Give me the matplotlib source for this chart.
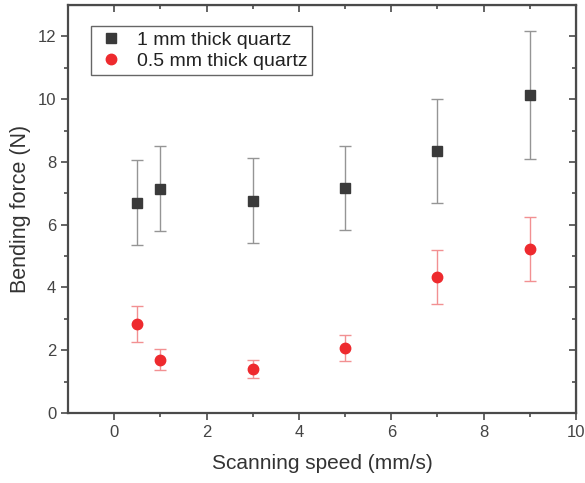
import matplotlib.pyplot as plt
import numpy as np

plt.rcParams['font.family'] = ['Liberation Sans', 'DejaVu Sans']

# scanning speed (mm/s)
speed = [0.5, 1, 3, 5, 7, 9]

# 1 mm thick quartz
force_1mm = [6.7, 7.15, 6.77, 7.17, 8.35, 10.13]
err_1mm = [1.35, 1.35, 1.35, 1.35, 1.67, 2.03]

# 0.5 mm thick quartz
force_05mm = [2.83, 1.7, 1.4, 2.07, 4.33, 5.23]
err_05mm = [0.57, 0.34, 0.3, 0.41, 0.87, 1.03]

labels = ['1 mm thick quartz', '0.5 mm thick quartz']

fig = plt.figure(figsize=(5.85, 4.83), dpi=100)
ax = fig.add_axes([68/585, 1 - 413/483, (576-68)/585, (413-5)/483])

eb1 = ax.errorbar(speed, force_1mm, yerr=err_1mm, fmt='s', color='#3a3a3a', ms=7,
                  ecolor='#959595', elinewidth=1, capsize=4, capthick=1)
eb2 = ax.errorbar(speed, force_05mm, yerr=err_05mm, fmt='o', color='#ee2a2e', ms=7.5,
                  ecolor='#f29092', elinewidth=1, capsize=4, capthick=1)

ax.set_xlim(-1, 10)
ax.set_ylim(0, 13)
ax.set_xticks([0, 2, 4, 6, 8, 10])
ax.set_xticks([1, 3, 5, 7, 9], minor=True)
ax.set_yticks([0, 2, 4, 6, 8, 10, 12])
ax.set_yticks([1, 3, 5, 7, 9, 11], minor=True)

for s in ax.spines.values():
    s.set_linewidth(1.6)
    s.set_color('#4a4a4a')

ax.tick_params(which='both', direction='out', colors='#4a4a4a', labelcolor='#444444',
               labelsize=12, width=1.2)
ax.tick_params(which='major', length=5)
ax.tick_params(which='minor', length=3)

# mirrored ticks on top/right pointing inward
axt = ax.secondary_xaxis('top')
axt.set_xticks([0, 2, 4, 6, 8, 10])
axt.set_xticks([1, 3, 5, 7, 9], minor=True)
axt.tick_params(which='both', direction='in', labeltop=False, width=1.2, colors='#4a4a4a')
axt.tick_params(which='major', length=5)
axt.tick_params(which='minor', length=3)
axr = ax.secondary_yaxis('right')
axr.set_yticks([0, 2, 4, 6, 8, 10, 12])
axr.set_yticks([1, 3, 5, 7, 9, 11], minor=True)
axr.tick_params(which='both', direction='in', labelright=False, width=1.2, colors='#4a4a4a')
axr.tick_params(which='major', length=5)
axr.tick_params(which='minor', length=3)

ax.set_xlabel('Scanning speed (mm/s)', fontsize=15, color='#333333', labelpad=10)
ax.set_ylabel('Bending force (N)', fontsize=15.5, color='#333333', labelpad=5)

leg = ax.legend([eb1.lines[0], eb2.lines[0]], labels, loc='upper left',
                bbox_to_anchor=(0.045, 0.948), borderaxespad=0, fontsize=14,
                fancybox=False, edgecolor='#666666', framealpha=1,
                handletextpad=0.5, borderpad=0.25, labelspacing=0.2, handlelength=1.6)
leg.get_frame().set_linewidth(1)
for t in leg.get_texts():
    t.set_color('#222222')

fig.savefig('out.png', dpi=100)
